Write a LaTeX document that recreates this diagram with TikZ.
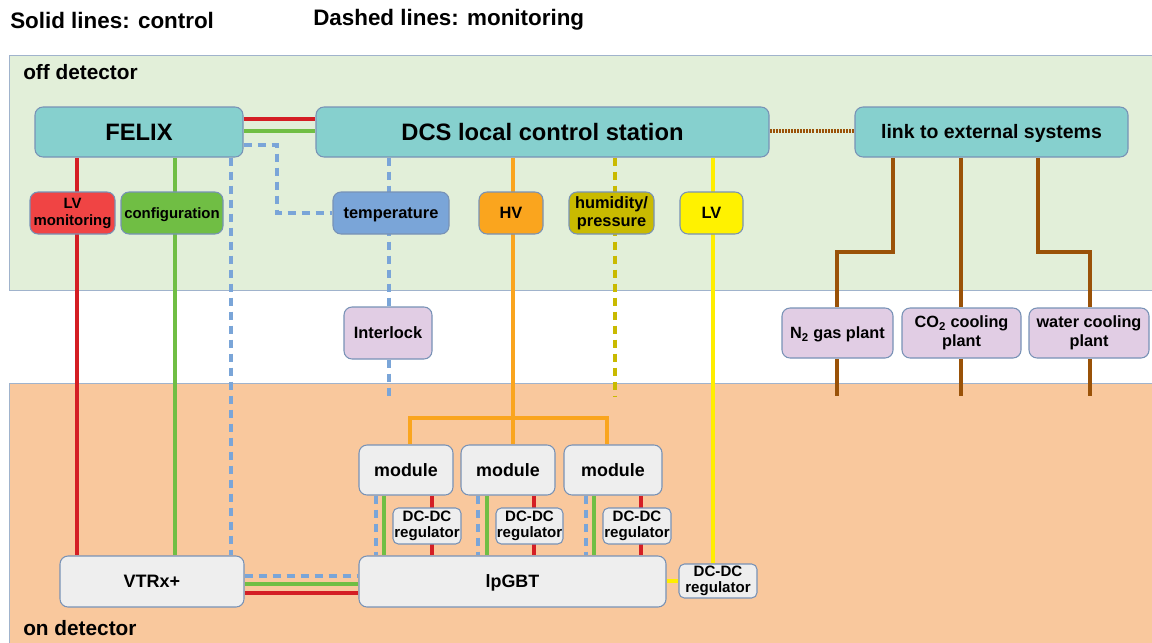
\documentclass[tikz,border=0pt]{standalone}
\usepackage{fontspec}
\setmainfont{Liberation Sans}
\definecolor{teal}{RGB}{134,208,206}
\definecolor{bordc}{RGB}{120,146,182}
\definecolor{lvred}{RGB}{240,68,68}
\definecolor{cfggreen}{RGB}{112,190,68}
\definecolor{tempblue}{RGB}{122,165,216}
\definecolor{hvorange}{RGB}{250,165,30}
\definecolor{olive}{RGB}{201,186,0}
\definecolor{lvyellow}{RGB}{255,242,0}
\definecolor{lavender}{RGB}{225,205,228}
\definecolor{modgray}{RGB}{238,238,238}
\definecolor{bggreen}{RGB}{226,239,217}
\definecolor{bgorange}{RGB}{249,200,157}
\definecolor{linered}{RGB}{212,30,36}
\definecolor{linegreen}{RGB}{112,190,68}
\definecolor{lineblue}{RGB}{122,165,216}
\definecolor{lineyellow}{RGB}{255,238,0}
\definecolor{lineolive}{RGB}{201,186,0}
\definecolor{linebrown}{RGB}{154,82,8}
\pgfdeclarelayer{bg}
\pgfdeclarelayer{lines}
\pgfsetlayers{bg,lines,main}
\begin{document}
\begin{tikzpicture}[x=0.75pt,y=-0.75pt,
  box/.style={draw=bordc,line width=0.8pt,rounded corners=6pt,inner sep=0pt,align=center,font=\bfseries,
    execute at begin node={\rule{0pt}{0.905em}},
    execute at end node={\rule[-0.212em]{0pt}{0.212em}}},
  sz/.style 2 args={minimum width=#1*0.75pt,minimum height=#2*0.75pt},
  ctl/.style={line width=3pt},
  mon/.style={line width=3pt,dash pattern=on 6pt off 4.5pt},
  dotl/.style={line width=3pt,dash pattern=on 1.5pt off 0.8pt},
  lbl/.style={anchor=west,inner sep=0pt,font=\bfseries}
]
\useasboundingbox (0,0) rectangle (1152,642);

% regions
\begin{pgfonlayer}{bg}
\fill[white] (0,0) rectangle (1152,642);
\fill[bggreen,draw=bordc!70,line width=0.6pt] (9,55) rectangle (1162,290);
\fill[bgorange,draw=bordc!70,line width=0.6pt] (9,383) rectangle (1162,652);
\end{pgfonlayer}

% titles
\node[lbl,font=\bfseries\fontsize{16.8}{18}\selectfont] (t1) at (10,20) {Solid lines: control};
\node[lbl,font=\bfseries\fontsize{16.8}{18}\selectfont] (t2) at (313,20) {Dashed lines: monitoring};
\node[lbl,font=\bfseries\fontsize{15.6}{17}\selectfont] (offd) at (23,72) {off detector};
\node[lbl,font=\bfseries\fontsize{15.6}{17}\selectfont] (ond) at (23,628) {on detector};

% top boxes
\node[box,fill=teal,sz={208}{50},font=\bfseries\fontsize{17.8}{19}\selectfont] (felix) at (139,132) {FELIX};
\node[box,fill=teal,sz={453}{50},font=\bfseries\fontsize{17.8}{19}\selectfont] (dcs) at (542.5,132) {DCS local control station};
\node[box,fill=teal,sz={273}{50},font=\bfseries\fontsize{14.6}{16}\selectfont] (link) at (991.5,132) {link to external systems};

% second row
\node[box,fill=lvred,sz={85}{42},font=\bfseries\fontsize{11.2}{12.75}\selectfont] (lvmon) at (72.5,213) {LV\\monitoring};
\node[box,fill=cfggreen,sz={102}{42},font=\bfseries\fontsize{11.2}{12.75}\selectfont] (cfg) at (172,213) {configuration};
\node[box,fill=tempblue,sz={116}{42},font=\bfseries\fontsize{12.3}{13.5}\selectfont] (temp) at (391,213) {temperature};
\node[box,fill=hvorange,sz={64}{42},font=\bfseries\fontsize{12.3}{13.5}\selectfont] (hv) at (511,213) {HV};
\node[box,fill=olive,sz={85}{42},font=\bfseries\fontsize{12.3}{13.5}\selectfont] (hum) at (611.5,213) {humidity/\\pressure};
\node[box,fill=lvyellow,sz={63}{42},font=\bfseries\fontsize{12.3}{13.5}\selectfont] (lv) at (711.5,213) {LV};

% middle row
\node[box,fill=lavender,sz={88}{52},font=\bfseries\fontsize{12.3}{13.5}\selectfont] (inter) at (388,333) {Interlock};
\node[box,fill=lavender,sz={111}{50},font=\bfseries\fontsize{12.2}{14}\selectfont] (n2) at (837.5,333) {N\textsubscript{2} gas plant};
\node[box,fill=lavender,sz={119}{50},font=\bfseries\fontsize{12.2}{14}\selectfont] (co2) at (961.5,333) {CO\textsubscript{2} cooling\\plant};
\node[box,fill=lavender,sz={120}{50},font=\bfseries\fontsize{12.2}{14}\selectfont] (water) at (1089,333) {water cooling\\plant};

% modules
\node[box,fill=modgray,sz={94}{50},font=\bfseries\fontsize{13.4}{15}\selectfont] (m1) at (406,470) {module};
\node[box,fill=modgray,sz={94}{50},font=\bfseries\fontsize{13.4}{15}\selectfont] (m2) at (508,470) {module};
\node[box,fill=modgray,sz={98}{50},font=\bfseries\fontsize{13.4}{15}\selectfont] (m3) at (613,470) {module};
\node[box,fill=modgray,rounded corners=4pt,sz={68}{36},font=\bfseries\fontsize{11.3}{12}\selectfont] (d1) at (427,526) {DC-DC\\regulator};
\node[box,fill=modgray,rounded corners=4pt,sz={67}{36},font=\bfseries\fontsize{11.3}{12}\selectfont] (d2) at (529.5,526) {DC-DC\\regulator};
\node[box,fill=modgray,rounded corners=4pt,sz={68}{36},font=\bfseries\fontsize{11.3}{12}\selectfont] (d3) at (637,526) {DC-DC\\regulator};

% bottom row
\node[box,fill=modgray,sz={184}{51},font=\bfseries\fontsize{13.5}{15}\selectfont] (vtrx) at (152,581.5) {VTRx+};
\node[box,fill=modgray,sz={307}{51},font=\bfseries\fontsize{13.4}{15}\selectfont] (lpgbt) at (512.5,581.5) {lpGBT};
\node[box,fill=modgray,rounded corners=4pt,sz={78}{34},font=\bfseries\fontsize{11.3}{12}\selectfont] (dcr) at (718,581) {DC-DC\\regulator};

% free ends
\coordinate (tend) at (389,397);
\coordinate (hend) at (615,397);
\coordinate (oj) at (513,418);
\coordinate (ojl) at (410,418);
\coordinate (ojr) at (607,418);
\coordinate (n2end) at (837,396);
\coordinate (co2end) at (961,396);
\coordinate (wend) at (1090,396);

\begin{pgfonlayer}{lines}
% FELIX down
\draw[ctl,linered] (77,0 |- felix.south) -- (77,0 |- vtrx.north);
\draw[ctl,linegreen] (175,0 |- felix.south) -- (175,0 |- vtrx.north);
\draw[mon,lineblue] (231,0 |- felix.south) -- (231,0 |- vtrx.north);
% FELIX - DCS
\draw[ctl,linered] (felix.east |- 0,119) -- (dcs.west |- 0,119);
\draw[ctl,linegreen] (felix.east |- 0,131) -- (dcs.west |- 0,131);
\draw[mon,lineblue] (felix.east |- 0,145) -- (277,145) -- (277,0 |- temp.west) -- (temp.west);
% VTRx - lpGBT
\draw[mon,lineblue] (vtrx.east |- 0,576) -- (lpgbt.west |- 0,576);
\draw[ctl,linegreen] (vtrx.east |- 0,584) -- (lpgbt.west |- 0,584);
\draw[ctl,linered] (vtrx.east |- 0,593) -- (lpgbt.west |- 0,593);
% DCS down
\draw[mon,lineblue] (389,0 |- dcs.south) -- (389,0 |- inter.north);
\draw[mon,lineblue] (389,0 |- inter.south) -- (tend);
\draw[ctl,hvorange] (513,0 |- dcs.south) -- (oj);
\draw[ctl,hvorange] (ojl |- m1.north) -- (ojl) -- (ojr) -- (ojr |- m3.north);
\draw[ctl,hvorange] (oj) -- (oj |- m2.north);
\draw[mon,lineolive] (615,0 |- dcs.south) -- (hend);
\draw[ctl,lineyellow] (713,0 |- dcs.south) -- (713,0 |- dcr.north);
\draw[ctl,lineyellow] (lpgbt.east |- 0,581) -- (dcr.west |- 0,581);
% DCS - link
\draw[dotl,linebrown] (dcs.east |- 0,131) -- (link.west |- 0,131);
% link down
\draw[ctl,linebrown] (893,0 |- link.south) -- (893,252) -- (837,252) -- (837,0 |- n2.north);
\draw[ctl,linebrown] (837,0 |- n2.south) -- (n2end);
\draw[ctl,linebrown] (961,0 |- link.south) -- (961,0 |- co2.north);
\draw[ctl,linebrown] (961,0 |- co2.south) -- (co2end);
\draw[ctl,linebrown] (1038,0 |- link.south) -- (1038,252) -- (1090,252) -- (1090,0 |- water.north);
\draw[ctl,linebrown] (1090,0 |- water.south) -- (wend);
% modules - lpGBT
\draw[mon,lineblue] (376,0 |- m1.south) -- (376,0 |- lpgbt.north);
\draw[ctl,linegreen] (384,0 |- m1.south) -- (384,0 |- lpgbt.north);
\draw[ctl,linered] (432,0 |- m1.south) -- (432,0 |- lpgbt.north);
\draw[mon,lineblue] (478,0 |- m2.south) -- (478,0 |- lpgbt.north);
\draw[ctl,linegreen] (487,0 |- m2.south) -- (487,0 |- lpgbt.north);
\draw[ctl,linered] (534,0 |- m2.south) -- (534,0 |- lpgbt.north);
\draw[mon,lineblue] (586,0 |- m3.south) -- (586,0 |- lpgbt.north);
\draw[ctl,linegreen] (594,0 |- m3.south) -- (594,0 |- lpgbt.north);
\draw[ctl,linered] (641,0 |- m3.south) -- (641,0 |- lpgbt.north);
\end{pgfonlayer}
\end{tikzpicture}
\end{document}
